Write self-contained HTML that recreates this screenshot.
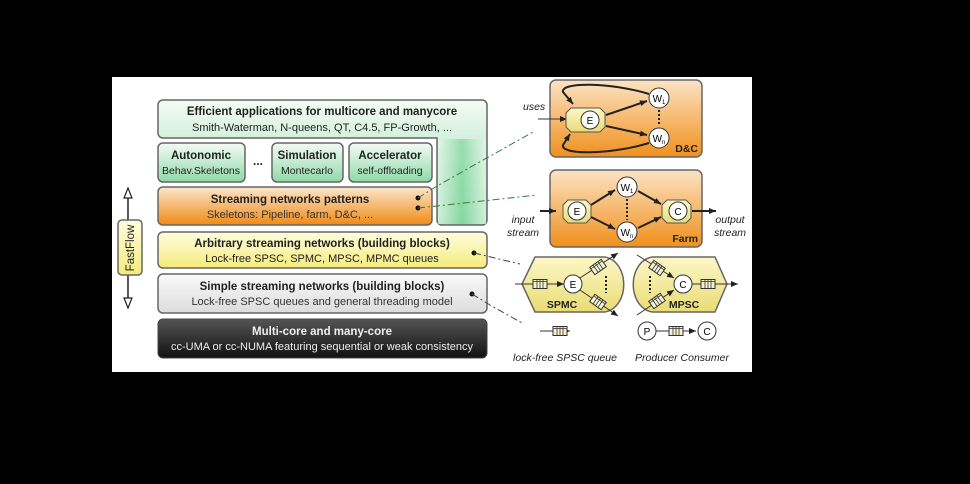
<!DOCTYPE html>
<html><head><meta charset="utf-8"><style>
html,body{margin:0;padding:0;background:#000;}
svg{display:block;font-family:"Liberation Sans",sans-serif;}
</style></head><body>
<svg width="970" height="484" viewBox="0 0 970 484" xmlns="http://www.w3.org/2000/svg">
<defs>
<linearGradient id="gr" x1="0" y1="0" x2="0" y2="1"><stop offset="0" stop-color="#f4fbf6"/><stop offset="1" stop-color="#8fd9a8"/></linearGradient>
<linearGradient id="grc" x1="0" y1="0" x2="1" y2="0"><stop offset="0" stop-color="#e8f7ec"/><stop offset="0.5" stop-color="#7fd69a"/><stop offset="1" stop-color="#e8f7ec"/></linearGradient>
<linearGradient id="or" x1="0" y1="0" x2="0" y2="1"><stop offset="0" stop-color="#fbe6cc"/><stop offset="1" stop-color="#f08a14"/></linearGradient>
<linearGradient id="ye" x1="0" y1="0" x2="0" y2="1"><stop offset="0" stop-color="#fffde0"/><stop offset="1" stop-color="#f5ec7a"/></linearGradient>
<linearGradient id="gy" x1="0" y1="0" x2="0" y2="1"><stop offset="0" stop-color="#fafafa"/><stop offset="1" stop-color="#dcdcdc"/></linearGradient>
<linearGradient id="bk" x1="0" y1="0" x2="0" y2="1"><stop offset="0" stop-color="#555"/><stop offset="1" stop-color="#111"/></linearGradient>
<linearGradient id="ob" x1="0" y1="0" x2="0" y2="1"><stop offset="0" stop-color="#fce3c4"/><stop offset="1" stop-color="#f0901c"/></linearGradient>
<linearGradient id="yh" x1="0" y1="0" x2="0" y2="1"><stop offset="0" stop-color="#fdf7c8"/><stop offset="1" stop-color="#e9dc73"/></linearGradient>
<marker id="ar" markerWidth="8" markerHeight="8" refX="7" refY="4" orient="auto" markerUnits="userSpaceOnUse"><path d="M0,1 L7,4 L0,7 z" fill="#222"/></marker>
<g id="q"><rect x="-7" y="-4.5" width="14" height="9" fill="#f6f3d0" stroke="#333" stroke-width="1"/><path d="M-3,-4.5V4.5M0,-4.5V4.5M3,-4.5V4.5M-7,-2.5H7" stroke="#333" stroke-width="0.8"/></g>
</defs>
<rect x="112" y="77" width="640" height="295" fill="#fff"/>
<path d="M163,100 H482 a5,5 0 0 1 5,5 V220 a5,5 0 0 1 -5,5 H442 a5,5 0 0 1 -5,-5 V138 H163 a5,5 0 0 1 -5,-5 V105 a5,5 0 0 1 5,-5z" fill="url(#gr)" stroke="#666" stroke-width="1.5"/>
<rect x="438" y="139" width="48" height="85" fill="url(#grc)" opacity="0.7"/>
<path d="M437,138 H437" stroke="#666"/>
<text x="322" y="115" font-size="11.5" font-weight="bold" text-anchor="middle" fill="#222">Efficient applications for multicore and manycore</text>
<text x="322" y="131" font-size="11" text-anchor="middle" fill="#222">Smith-Waterman, N-queens, QT, C4.5, FP-Growth, ...</text>
<rect x="158" y="143" width="87" height="39" rx="5" fill="url(#gr)" stroke="#666" stroke-width="1.5"/>
<text x="201" y="159" font-size="11.5" font-weight="bold" text-anchor="middle" fill="#222">Autonomic</text>
<text x="201" y="174" font-size="10.5" text-anchor="middle" fill="#222">Behav.Skeletons</text>
<text x="258" y="165" font-size="12" font-weight="bold" text-anchor="middle" fill="#222">...</text>
<rect x="272" y="143" width="71" height="39" rx="5" fill="url(#gr)" stroke="#666" stroke-width="1.5"/>
<text x="307" y="159" font-size="11.5" font-weight="bold" text-anchor="middle" fill="#222">Simulation</text>
<text x="307" y="174" font-size="10.5" text-anchor="middle" fill="#222">Montecarlo</text>
<rect x="349" y="143" width="83" height="39" rx="5" fill="url(#gr)" stroke="#666" stroke-width="1.5"/>
<text x="390" y="159" font-size="11.5" font-weight="bold" text-anchor="middle" fill="#222">Accelerator</text>
<text x="390" y="174" font-size="10.5" text-anchor="middle" fill="#222">self-offloading</text>
<rect x="158" y="187" width="274" height="38" rx="5" fill="url(#or)" stroke="#666" stroke-width="1.5"/>
<text x="290" y="203" font-size="11.5" font-weight="bold" text-anchor="middle" fill="#222">Streaming networks patterns</text>
<text x="290" y="218" font-size="11" text-anchor="middle" fill="#333">Skeletons: Pipeline, farm, D&amp;C, ...</text>
<rect x="158" y="232" width="329" height="36" rx="5" fill="url(#ye)" stroke="#666" stroke-width="1.5"/>
<text x="322" y="247" font-size="11.5" font-weight="bold" text-anchor="middle" fill="#222">Arbitrary streaming networks (building blocks)</text>
<text x="322" y="262" font-size="11" text-anchor="middle" fill="#222">Lock-free SPSC, SPMC, MPSC, MPMC queues</text>
<rect x="158" y="274" width="329" height="39" rx="5" fill="url(#gy)" stroke="#666" stroke-width="1.5"/>
<text x="322" y="290" font-size="11.5" font-weight="bold" text-anchor="middle" fill="#222">Simple streaming networks (building blocks)</text>
<text x="322" y="305" font-size="11" text-anchor="middle" fill="#333">Lock-free SPSC queues and general threading model</text>
<rect x="158" y="319" width="329" height="39" rx="5" fill="url(#bk)" stroke="#444"/>
<text x="322" y="335" font-size="11.5" font-weight="bold" text-anchor="middle" fill="#eee">Multi-core and many-core</text>
<text x="322" y="350" font-size="11" text-anchor="middle" fill="#eee">cc-UMA or cc-NUMA featuring sequential or weak consistency</text>
<path d="M128,196 V300" stroke="#222" stroke-width="1.5"/>
<path d="M124,198 L128,188 L132,198z M124,298 L128,308 L132,298z" fill="#fff" stroke="#222" stroke-width="1.2"/>
<rect x="118" y="220" width="24" height="55" rx="4" fill="url(#ye)" stroke="#666" stroke-width="1.5"/>
<text transform="translate(134,248) rotate(-90)" font-size="11.5" text-anchor="middle" fill="#222">FastFlow</text>
<g fill="#111"><circle cx="418" cy="198" r="2.5"/><circle cx="418" cy="208" r="2.5"/><circle cx="474" cy="253" r="2.5"/><circle cx="472" cy="294" r="2.5"/></g>
<g stroke="#3a7a3a" stroke-width="1" stroke-dasharray="7,3,2,3" fill="none">
<path d="M418,198 L437,186 L533,132"/><path d="M418,208 L437,206 L537,195"/>
</g>
<g stroke="#444" stroke-width="1" stroke-dasharray="7,3,2,3" fill="none">
<path d="M474,253 L520,264"/><path d="M472,294 L490,305 L522,323"/>
</g>
<rect x="550" y="80" width="152" height="77" rx="6" fill="url(#ob)" stroke="#666" stroke-width="1.5"/>
<text x="698" y="152" font-size="10.5" font-weight="bold" text-anchor="end" fill="#222">D&amp;C</text>
<text x="523" y="110" font-size="10.5" font-style="italic" fill="#222">uses</text>
<path d="M538,119 H567" stroke="#333" stroke-width="1" marker-end="url(#ar)"/>
<path d="M571,108 H600 l5,5 V127 l-5,5 H571 l-5,-5 V113z" fill="url(#yh)" stroke="#555"/>
<circle cx="590" cy="120" r="9" fill="#fff" stroke="#333"/><text x="590" y="124" font-size="10" text-anchor="middle">E</text>
<circle cx="659" cy="98" r="10" fill="#fff" stroke="#333"/><text x="659" y="102" font-size="10" text-anchor="middle">W<tspan font-size="6" dy="2">1</tspan></text>
<circle cx="659" cy="138" r="10" fill="#fff" stroke="#333"/><text x="659" y="142" font-size="10" text-anchor="middle">W<tspan font-size="6" dy="2">n</tspan></text>
<path d="M659,110 V126" stroke="#222" stroke-width="2" stroke-dasharray="2,2"/>
<g stroke="#222" stroke-width="2" fill="none">
<path d="M606,115 L647,101" marker-end="url(#ar)"/><path d="M606,126 L647,135" marker-end="url(#ar)"/>
<path d="M649,94 C610,82 560,82 563,92 L573,104" marker-end="url(#ar)"/>
<path d="M649,143 C610,155 560,155 563,145 L570,134" marker-end="url(#ar)"/>
</g>
<rect x="550" y="170" width="152" height="77" rx="6" fill="url(#ob)" stroke="#666" stroke-width="1.5"/>
<text x="698" y="242" font-size="10.5" font-weight="bold" text-anchor="end" fill="#222">Farm</text>
<text x="523" y="223" font-size="10.5" font-style="italic" text-anchor="middle" fill="#222">input</text>
<text x="523" y="236" font-size="10.5" font-style="italic" text-anchor="middle" fill="#222">stream</text>
<text x="730" y="223" font-size="10.5" font-style="italic" text-anchor="middle" fill="#222">output</text>
<text x="730" y="236" font-size="10.5" font-style="italic" text-anchor="middle" fill="#222">stream</text>
<path d="M540,211 H556" stroke="#222" stroke-width="2" marker-end="url(#ar)"/>
<path d="M568,200 H586 l5,5 V218 l-5,5 H568 l-5,-5 V205z" fill="url(#yh)" stroke="#555"/>
<circle cx="577" cy="211" r="9" fill="#fff" stroke="#333"/><text x="577" y="215" font-size="10" text-anchor="middle">E</text>
<path d="M667,200 H686 l5,5 V218 l-5,5 H667 l-5,-5 V205z" fill="url(#yh)" stroke="#555"/>
<circle cx="678" cy="211" r="9" fill="#fff" stroke="#333"/><text x="678" y="215" font-size="10" text-anchor="middle">C</text>
<path d="M692,211 H716" stroke="#222" stroke-width="2" marker-end="url(#ar)"/>
<circle cx="627" cy="187" r="10" fill="#fff" stroke="#333"/><text x="627" y="191" font-size="10" text-anchor="middle">W<tspan font-size="6" dy="2">1</tspan></text>
<circle cx="627" cy="232" r="10" fill="#fff" stroke="#333"/><text x="627" y="236" font-size="10" text-anchor="middle">W<tspan font-size="6" dy="2">n</tspan></text>
<path d="M627,199 V220" stroke="#222" stroke-width="2" stroke-dasharray="2,2"/>
<g stroke="#222" stroke-width="2"><path d="M591,205 L615,190" marker-end="url(#ar)"/><path d="M591,217 L615,229" marker-end="url(#ar)"/><path d="M638,191 L661,204" marker-end="url(#ar)"/><path d="M638,228 L661,217" marker-end="url(#ar)"/></g>
<path d="M535,257 H605 C630,262 630,307 605,312 H535 L522,284z" fill="url(#yh)" stroke="#666" stroke-width="1.5"/>
<text x="562" y="308" font-size="10.5" font-weight="bold" text-anchor="middle" fill="#222">SPMC</text>
<path d="M515,284 H564" stroke="#333" marker-end="url(#ar)"/>
<use href="#q" x="540" y="284"/>
<circle cx="573" cy="284" r="9" fill="#fff" stroke="#333"/><text x="573" y="288" font-size="10" text-anchor="middle">E</text>
<path d="M580,278 L618,253" stroke="#333" marker-end="url(#ar)"/><path d="M580,290 L618,316" stroke="#333" marker-end="url(#ar)"/>
<use href="#q" transform="translate(598,267) rotate(-35)"/><use href="#q" transform="translate(598,302) rotate(35)"/>
<path d="M606,276 V293" stroke="#222" stroke-width="2" stroke-dasharray="2,2"/>
<path d="M652,257 H715 L727,284 L715,312 H652 C627,307 627,262 652,257z" fill="url(#yh)" stroke="#666" stroke-width="1.5"/>
<text x="684" y="308" font-size="10.5" font-weight="bold" text-anchor="middle" fill="#222">MPSC</text>
<path d="M637,255 L674,278" stroke="#333" marker-end="url(#ar)"/><path d="M637,315 L674,290" stroke="#333" marker-end="url(#ar)"/>
<use href="#q" transform="translate(657,268) rotate(35)"/><use href="#q" transform="translate(657,301) rotate(-35)"/>
<path d="M650,276 V293" stroke="#222" stroke-width="2" stroke-dasharray="2,2"/>
<circle cx="683" cy="284" r="9" fill="#fff" stroke="#333"/><text x="683" y="288" font-size="10" text-anchor="middle">C</text>
<path d="M692,284 H738" stroke="#333" marker-end="url(#ar)"/>
<use href="#q" x="708" y="284"/>
<path d="M540,331 H570" stroke="#333" marker-end="url(#ar)"/><use href="#q" x="560" y="331"/>
<circle cx="647" cy="331" r="9" fill="#fff" stroke="#333"/><text x="647" y="335" font-size="10" text-anchor="middle">P</text>
<path d="M656,331 H696" stroke="#333" marker-end="url(#ar)"/><use href="#q" x="676" y="331"/>
<circle cx="707" cy="331" r="9" fill="#fff" stroke="#333"/><text x="707" y="335" font-size="10" text-anchor="middle">C</text>
<text x="565" y="361" font-size="10.5" font-style="italic" text-anchor="middle" fill="#222">lock-free SPSC queue</text>
<text x="682" y="361" font-size="10.5" font-style="italic" text-anchor="middle" fill="#222">Producer Consumer</text>
</svg>
</body></html>
